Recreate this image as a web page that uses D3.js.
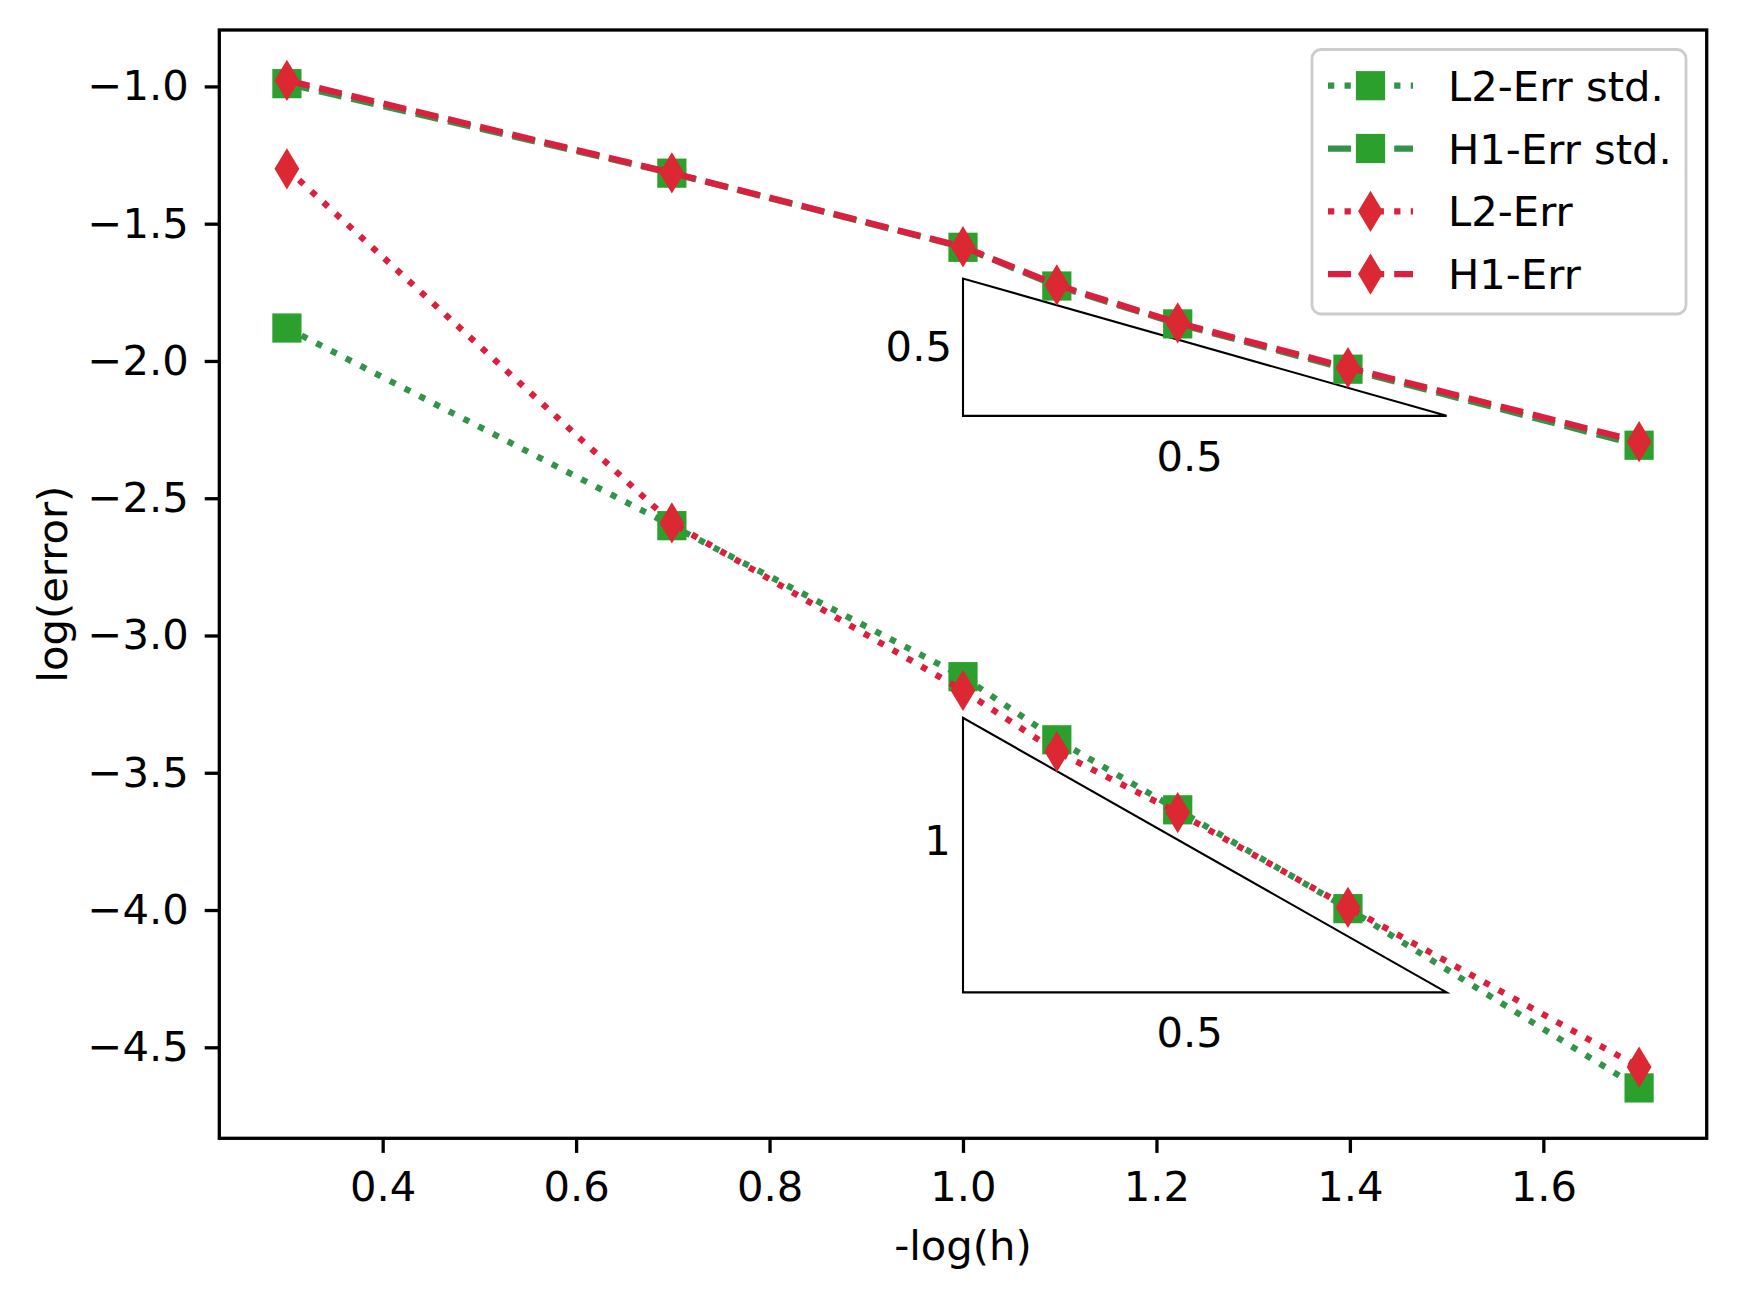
<!DOCTYPE html>
<html>
<head>
<meta charset="utf-8">
<script src="https://cdn.jsdelivr.net/npm/d3@7"></script>
<style>
  body { margin: 0; background: #fff; }
  svg { display: block; font-family: "DejaVu Sans", sans-serif; }
</style>
</head>
<body>
<div id="chart"></div>
<script>

// -log(h)
var xVals = [0.301, 0.699, 1.0, 1.097, 1.222, 1.398, 1.699];

// log(error) for each run
var l2Std = [-1.88, -2.60, -3.15, -3.38, -3.635, -3.995, -4.648];
var h1Std = [-0.99, -1.316, -1.586, -1.727, -1.865, -2.03, -2.307];
var l2Err = [-1.30, -2.59, -3.20, -3.423, -3.645, -3.99, -4.572];
var h1Err = [-0.978, -1.315, -1.584, -1.723, -1.861, -2.024, -2.294];

var seriesNames = ["L2-Err std.", "H1-Err std.", "L2-Err", "H1-Err"];

var xTicks = [0.4, 0.6, 0.8, 1.0, 1.2, 1.4, 1.6];
var yTicks = [-4.5, -4.0, -3.5, -3.0, -2.5, -2.0, -1.5, -1.0];

// slope triangles and their labels
var triUpper = [[1.0, -1.7], [1.0, -2.2], [1.5, -2.2]];
var triLower = [[1.0, -3.3], [1.0, -4.3], [1.5, -4.3]];
var triLabels = [
  {x: 0.92, y: -2.0, t: "0.5"},
  {x: 1.2,  y: -2.4, t: "0.5"},
  {x: 0.96, y: -3.8, t: "1"},
  {x: 1.2,  y: -4.5, t: "0.5"}
];

var width = 1737,
    height = 1298;
var axLeft = 219.3, axRight = 1706.7, axTop = 30, axBottom = 1138.3;

var fs = 41.7;
var lw = 6.25;
var dotted = "6.25,10.3", dashed = "23.1,10";

var series = [
  {name: seriesNames[0], vals: l2Std, line: "#33934a", fill: "#2ca02c", dash: dotted, marker: "square"},
  {name: seriesNames[1], vals: h1Std, line: "#33934a", fill: "#2ca02c", dash: dashed, marker: "square"},
  {name: seriesNames[2], vals: l2Err, line: "#dc1f3e", fill: "#dc2833", dash: dotted, marker: "diamond"},
  {name: seriesNames[3], vals: h1Err, line: "#dc1f3e", fill: "#dc2833", dash: dashed, marker: "diamond"}
];

// matplotlib style 5% margins
function padded(ext) {
  var m = (ext[1] - ext[0]) * 0.05;
  return [ext[0] - m, ext[1] + m];
}
var allY = l2Std.concat(h1Std, l2Err, h1Err);

var x = d3.scaleLinear().domain(padded(d3.extent(xVals))).range([axLeft, axRight]);
var y = d3.scaleLinear().domain(padded(d3.extent(allY))).range([axBottom, axTop]);

var svg = d3.select("#chart").append("svg")
    .attr("width", width)
    .attr("height", height);

// axes
var xAxis = svg.append("g")
    .attr("transform", "translate(0," + axBottom + ")")
    .call(d3.axisBottom(x).tickValues(xTicks).tickFormat(d3.format(".1f"))
      .tickSize(14.6).tickSizeOuter(0).tickPadding(18));

var yAxis = svg.append("g")
    .attr("transform", "translate(" + axLeft + ",0)")
    .call(d3.axisLeft(y).tickValues(yTicks).tickFormat(d3.format(".1f"))
      .tickSize(14.6).tickSizeOuter(0).tickPadding(16));

[xAxis, yAxis].forEach(function(a) {
  a.attr("font-size", fs).attr("font-family", "DejaVu Sans");
  a.select(".domain").remove();
  a.selectAll(".tick line").attr("stroke", "#000").attr("stroke-width", 3.3);
  a.selectAll(".tick text").attr("fill", "#000");
});

// spines
svg.append("rect")
    .attr("x", axLeft).attr("y", axTop)
    .attr("width", axRight - axLeft).attr("height", axBottom - axTop)
    .attr("fill", "none")
    .attr("stroke", "#000")
    .attr("stroke-width", 3.3);

svg.append("text")
    .attr("x", (axLeft + axRight) / 2)
    .attr("y", 1260)
    .attr("text-anchor", "middle")
    .attr("font-size", fs)
    .text("-log(h)");

svg.append("text")
    .attr("transform", "translate(66.7," + ((axTop + axBottom) / 2) + ") rotate(-90)")
    .attr("text-anchor", "middle")
    .attr("font-size", fs)
    .text("log(error)");

// triangles
var triLine = d3.line()
    .x(function(d) { return x(d[0]); })
    .y(function(d) { return y(d[1]); })
    .curve(d3.curveLinearClosed);

svg.append("g").selectAll("path")
    .data([triUpper, triLower])
    .enter().append("path")
    .attr("d", triLine)
    .attr("fill", "none")
    .attr("stroke", "#000")
    .attr("stroke-width", 2.1);

svg.append("g").selectAll("text")
    .data(triLabels)
    .enter().append("text")
    .attr("x", function(d) { return x(d.x); })
    .attr("y", function(d) { return y(d.y); })
    .attr("font-size", fs)
    .text(function(d) { return d.t; });

// series
var sq = 29.2, dh = 41.3, dw = 24.8;
function drawMarker(g, kind, fill) {
  if (kind == "square") {
    g.append("rect")
      .attr("x", -sq / 2).attr("y", -sq / 2)
      .attr("width", sq).attr("height", sq)
      .attr("fill", fill);
  } else {
    g.append("path")
      .attr("d", "M0," + (-dh / 2) + "L" + (dw / 2) + ",0L0," + (dh / 2) + "L" + (-dw / 2) + ",0Z")
      .attr("fill", fill);
  }
}

var line = d3.line()
    .x(function(d, i) { return x(xVals[i]); })
    .y(function(d) { return y(d); });

series.forEach(function(s) {
  var g = svg.append("g");
  g.append("path")
    .attr("d", line(s.vals))
    .attr("fill", "none")
    .attr("stroke", s.line)
    .attr("stroke-width", lw)
    .attr("stroke-dasharray", s.dash);

  g.selectAll("g.pt")
    .data(s.vals)
    .enter().append("g")
    .attr("class", "pt")
    .attr("transform", function(d, i) { return "translate(" + x(xVals[i]) + "," + y(d) + ")"; })
    .each(function() { drawMarker(d3.select(this), s.marker, s.fill); });
});

// legend
var legend = svg.append("g");
legend.append("rect")
    .attr("x", 1312).attr("y", 49.5)
    .attr("width", 374).attr("height", 264.5)
    .attr("rx", 9)
    .attr("fill", "#fff").attr("fill-opacity", 0.8)
    .attr("stroke", "#cccccc")
    .attr("stroke-width", 2.8);

var rows = legend.selectAll("g.row")
    .data(series)
    .enter().append("g")
    .attr("class", "row")
    .attr("transform", function(d, i) { return "translate(0," + (85.7 + i * 62.8) + ")"; });

rows.append("line")
    .attr("x1", 1328).attr("x2", 1413)
    .attr("stroke", function(d) { return d.line; })
    .attr("stroke-width", lw)
    .attr("stroke-dasharray", function(d) { return d.dash; });

rows.append("g")
    .attr("transform", "translate(1370.5,0)")
    .each(function(d) { drawMarker(d3.select(this), d.marker, d.fill); });

rows.append("text")
    .attr("x", 1448)
    .attr("y", 15)
    .attr("font-size", fs)
    .text(function(d) { return d.name; });

</script>
</body>
</html>
